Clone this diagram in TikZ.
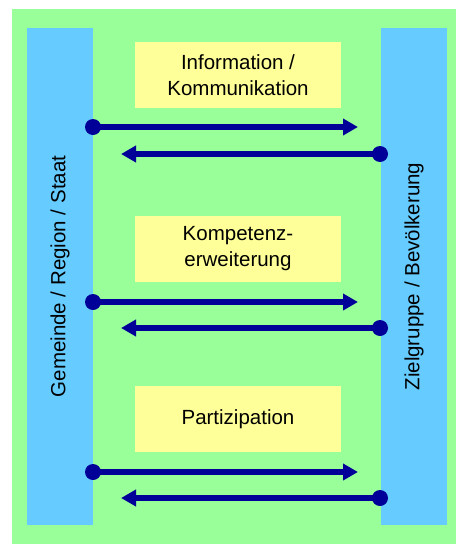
\documentclass[tikz,border=0pt]{standalone}
\usepackage{fontspec}
\setmainfont{Liberation Sans}
\usetikzlibrary{arrows.meta}
\definecolor{bggreen}{HTML}{99FF99}
\definecolor{barblue}{HTML}{66CCFF}
\definecolor{boxyellow}{HTML}{FFFF99}
\definecolor{arrblue}{HTML}{000099}
\tikzset{
  bar/.style={fill=barblue, draw=none, minimum width=66pt, minimum height=497pt, inner sep=0pt},
  topic/.style={fill=boxyellow, draw=none, minimum width=206pt, minimum height=66pt, inner sep=0pt, align=center, font=\fontsize{20.5pt}{26pt}\selectfont},
  side/.style={font=\fontsize{20.5pt}{26pt}\selectfont, rotate=90, inner sep=0pt},
  flow/.style={draw=arrblue, line width=6pt, -{Triangle[length=15pt,width=16pt]}},
  dot/.style={fill=arrblue}
}
\begin{document}
\begin{tikzpicture}[x=1pt,y=-1pt]
\useasboundingbox (0,0) rectangle (456,544);
\fill[bggreen] (12,9) rectangle (456,544);
\node[bar] (lbar) at (60,276.5) {};
\node[bar] (rbar) at (414,276.5) {};
\node[side] (ltext) at (lbar.center) {Gemeinde / Region / Staat};
\node[side] (rtext) at (rbar.center) {Zielgruppe / Bevölkerung};
\node[topic] (b1) at (238,75) {Information /\\Kommunikation};
\node[topic] (b2) at (238,249) {Kompetenz-\\erweiterung};
\node[topic] (b3) at (238,419) {Partizipation};
% arrow endpoints
\coordinate (r1s) at (93,127);  \coordinate (r1e) at (358,127);
\coordinate (l1s) at (380,154); \coordinate (l1e) at (121,154);
\coordinate (r2s) at (93,302);  \coordinate (r2e) at (358,302);
\coordinate (l2s) at (380,328); \coordinate (l2e) at (121,328);
\coordinate (r3s) at (93,472);  \coordinate (r3e) at (358,472);
\coordinate (l3s) at (380,498); \coordinate (l3e) at (121,498);
\foreach \a in {r1,l1,r2,l2,r3,l3}{
  \draw[flow] (\a s) -- (\a e);
  \fill[dot] (\a s) circle (8pt);
}
\end{tikzpicture}
\end{document}
